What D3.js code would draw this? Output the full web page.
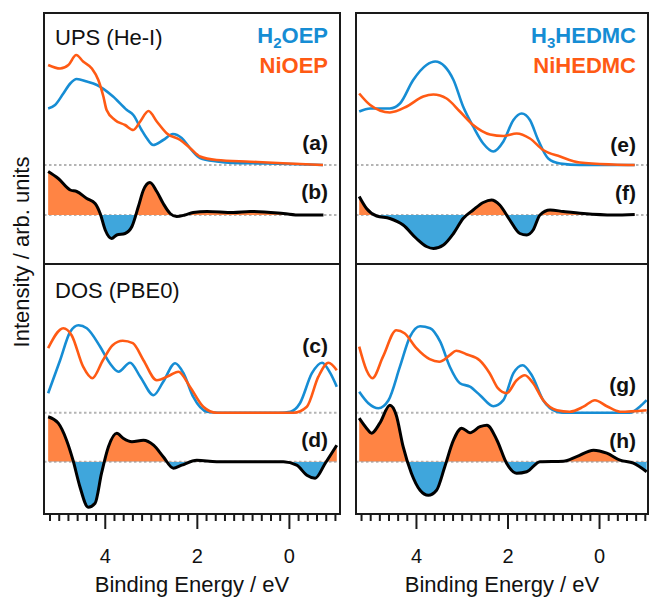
<!DOCTYPE html>
<html>
<head>
<meta charset="utf-8">
<script src="https://cdn.jsdelivr.net/npm/d3@7/dist/d3.min.js"></script>
<style>
  html, body { margin: 0; padding: 0; background: #fff; }
  svg { display: block; }
  text { font-family: "Liberation Sans", Arial, Helvetica, sans-serif; }
</style>
</head>
<body>
<svg id="chart" width="650" height="599"></svg>
<script>
// ---------------- DATA (binding energy [eV], intensity [arb. units]) ----------------
const majorTicks = [4, 2, 0];
const minorTicks = d3.range(-10, 53, 2).map(d => d / 10);

// (a) UPS He-I, OEP
const upsH2OEP = [[5.23,1.13],[5.08,1.2],[4.90,1.43],[4.75,1.63],[4.61,1.72],[4.39,1.67],[4.17,1.6],[3.82,1.37],[3.52,1.1],[3.38,1.0],[3.20,0.7],[3.09,0.54],[2.95,0.4],[2.73,0.5],[2.52,0.62],[2.33,0.54],[2.15,0.34],[1.93,0.14],[1.57,0.07],[1.21,0.04],[0.47,0.03],[-0.24,0.014],[-0.74,0]];
const upsNiOEP = [[5.23,2.0],[4.97,1.93],[4.79,2.0],[4.62,2.2],[4.47,2.07],[4.28,1.93],[4.14,1.7],[4.03,1.37],[3.96,1.1],[3.78,0.9],[3.56,0.8],[3.38,0.7],[3.23,0.87],[3.05,1.08],[2.87,0.87],[2.65,0.63],[2.36,0.5],[2.15,0.34],[1.93,0.17],[1.57,0.1],[0.84,0.066],[0.13,0.034],[-0.74,0]];
// (b) difference NiOEP - H2OEP
const upsDiffOEP = [[5.23,0.87],[5.01,0.73],[4.75,0.5],[4.61,0.47],[4.39,0.33],[4.21,0.23],[4.10,0.03],[3.99,-0.3],[3.85,-0.47],[3.74,-0.4],[3.56,-0.37],[3.41,-0.23],[3.27,0.17],[3.16,0.5],[3.02,0.65],[2.87,0.47],[2.73,0.23],[2.58,0.03],[2.44,-0.03],[2.26,0],[2.08,0.05],[1.78,0.07],[1.21,0.05],[0.84,0.07],[0.12,0.03],[-0.24,0],[-0.75,0]];

// (c) DOS PBE0, OEP
const dosH2OEP = [[5.23,0.39],[4.97,1.05],[4.75,1.62],[4.57,1.75],[4.39,1.69],[4.10,1.32],[3.89,0.99],[3.70,0.82],[3.45,1.0],[3.23,0.72],[2.94,0.35],[2.73,0.62],[2.47,0.99],[2.29,0.79],[2.08,0.32],[1.78,0.02],[1.5,0],[0.2,0],[-0.03,0.02],[-0.24,0.19],[-0.50,0.79],[-0.72,1.0],[-0.90,0.79],[-1.04,0.52]];
const dosNiOEP = [[5.23,1.29],[4.90,1.69],[4.72,1.55],[4.47,0.92],[4.27,0.69],[4.04,1.05],[3.83,1.35],[3.61,1.44],[3.39,1.39],[3.16,1.05],[2.87,0.65],[2.58,0.75],[2.40,0.82],[2.15,0.52],[1.86,0.12],[1.57,0],[0.1,0],[-0.10,0.0],[-0.39,0.12],[-0.64,0.72],[-0.86,1.0],[-1.04,0.85]];
// (d) difference
const dosDiffOEP = [[5.23,0.9],[5.01,0.77],[4.83,0.43],[4.69,0.03],[4.54,-0.5],[4.36,-0.91],[4.21,-0.83],[4.07,-0.23],[3.92,0.3],[3.74,0.57],[3.60,0.47],[3.41,0.4],[3.16,0.43],[2.94,0.33],[2.73,0.1],[2.51,-0.13],[2.33,-0.07],[2.00,0.03],[1.57,0],[0.12,0],[-0.17,-0.07],[-0.39,-0.27],[-0.57,-0.33],[-0.79,-0.03],[-1.04,0.33]];

// (e) UPS He-I, HEDMC
const upsH3HEDMC = [[5.24,1.07],[5.00,1.13],[4.57,1.13],[4.35,1.23],[4.06,1.7],[3.77,2.0],[3.58,2.07],[3.37,1.97],[3.18,1.7],[2.97,1.17],[2.75,0.77],[2.53,0.43],[2.31,0.27],[2.09,0.47],[1.87,0.9],[1.69,1.03],[1.51,0.9],[1.33,0.5],[1.11,0.13],[0.85,0.03],[0.42,0],[-0.78,0]];
const upsNiHEDMC = [[5.24,1.43],[5.00,1.2],[4.57,1.05],[4.20,1.17],[3.84,1.37],[3.62,1.41],[3.33,1.33],[3.04,1.07],[2.75,0.8],[2.38,0.61],[2.09,0.58],[1.80,0.63],[1.51,0.53],[1.22,0.3],[0.85,0.17],[0.42,0.05],[-0.31,0.01],[-0.78,0]];
// (f) difference
const upsDiffHEDMC = [[5.24,0.37],[5.08,0.13],[4.86,-0.02],[4.57,-0.07],[4.28,-0.2],[3.99,-0.47],[3.77,-0.63],[3.62,-0.67],[3.40,-0.6],[3.18,-0.37],[2.97,-0.07],[2.75,0.1],[2.53,0.25],[2.35,0.3],[2.17,0.2],[1.95,-0.1],[1.73,-0.37],[1.58,-0.4],[1.44,-0.3],[1.29,0],[1.07,0.1],[0.78,0.07],[0.34,0.03],[-0.31,0],[-0.78,0.01]];

// (g) DOS PBE0, HEDMC
const dosH3HEDMC = [[5.24,0.42],[5.04,0.19],[4.82,0.09],[4.60,0.25],[4.35,0.92],[4.13,1.52],[3.91,1.73],[3.69,1.69],[3.47,1.42],[3.26,0.92],[3.04,0.59],[2.82,0.52],[2.60,0.35],[2.31,0.13],[2.09,0.25],[1.87,0.79],[1.67,0.95],[1.47,0.75],[1.22,0.25],[0.92,0.02],[0.78,0],[-0.67,0],[-0.89,0.12],[-1.04,0.25]];
const dosNiHEDMC = [[5.24,1.32],[5.08,0.85],[4.95,0.69],[4.72,1.12],[4.43,1.65],[4.25,1.59],[3.99,1.29],[3.70,1.07],[3.49,1.02],[3.26,1.15],[3.12,1.24],[2.90,1.17],[2.61,1.05],[2.39,0.79],[2.21,0.49],[2.02,0.39],[1.80,0.65],[1.62,0.75],[1.44,0.59],[1.22,0.25],[0.92,0.05],[0.64,0.02],[0.34,0.12],[0.09,0.25],[-0.17,0.13],[-0.46,0.02],[-1.04,0.05]];
// (h) difference
const dosDiffHEDMC = [[5.24,0.87],[5.08,0.67],[4.97,0.57],[4.79,0.77],[4.57,1.13],[4.43,0.93],[4.28,0.3],[4.10,-0.23],[3.91,-0.57],[3.73,-0.67],[3.55,-0.57],[3.37,-0.1],[3.18,0.43],[3.00,0.67],[2.82,0.58],[2.60,0.7],[2.45,0.73],[2.23,0.43],[2.02,-0.03],[1.80,-0.23],[1.58,-0.2],[1.29,0],[0.78,0.01],[0.49,0.1],[0.12,0.23],[-0.17,0.17],[-0.46,0.03],[-0.75,-0.03],[-1.04,-0.2]];

// ---------------- STYLE / LAYOUT ----------------
const C = { blue: "#168dd4", orange: "#ff5a14", fillBlue: "#3fa6dc", fillOrange: "#ff8444", dot: "#b4b4b4", frame: "#1a1a1a" };
const FONT = '"Liberation Sans", Arial, Helvetica, sans-serif';

const svg = d3.select("#chart");

const columns = [
  { x0: 44, x1: 340, dom: [5.32, -1.11], legend: [["H", "2", "OEP"], ["NiOEP"]] },
  { x0: 356, x1: 648, dom: [5.31, -1.07], legend: [["H", "3", "HEDMC"], ["NiHEDMC"]] }
];
const rows = [
  { y0: 13, y1: 264, ydom: [-0.98, 4.04], offset: 1.0 },
  { y0: 264, y1: 514, ydom: [-1.046, 3.954], offset: 0.98 }
];

const panels = [
  { col: 0, row: 0, a: upsH2OEP, b: upsNiOEP, d: upsDiffOEP, labels: ["(a)", "(b)"], lab: [150, 199], title: "UPS (He-I)", titleY: 45 },
  { col: 0, row: 1, a: dosH2OEP, b: dosNiOEP, d: dosDiffOEP, labels: ["(c)", "(d)"], lab: [353, 447], title: "DOS (PBE0)", titleY: 298 },
  { col: 1, row: 0, a: upsH3HEDMC, b: upsNiHEDMC, d: upsDiffHEDMC, labels: ["(e)", "(f)"], lab: [152, 200] },
  { col: 1, row: 1, a: dosH3HEDMC, b: dosNiHEDMC, d: dosDiffHEDMC, labels: ["(g)", "(h)"], lab: [392, 448] }
];

const defs = svg.append("defs");

panels.forEach((p, i) => {
  const col = columns[p.col], row = rows[p.row];
  const x = d3.scaleLinear().domain(col.dom).range([col.x0, col.x1]);
  const y = d3.scaleLinear().domain(row.ydom).range([row.y1, row.y0]);
  const curve = d3.curveMonotoneX;
  const g = svg.append("g");

  // clip paths
  const cid = "clip" + i, pos = "pos" + i, neg = "neg" + i;
  defs.append("clipPath").attr("id", cid).append("rect")
    .attr("x", col.x0).attr("y", row.y0).attr("width", col.x1 - col.x0).attr("height", row.y1 - row.y0);
  defs.append("clipPath").attr("id", pos).append("rect")
    .attr("x", col.x0).attr("y", row.y0).attr("width", col.x1 - col.x0).attr("height", y(0) - row.y0);
  defs.append("clipPath").attr("id", neg).append("rect")
    .attr("x", col.x0).attr("y", y(0)).attr("width", col.x1 - col.x0).attr("height", row.y1 - y(0));

  // dotted zero lines
  [row.offset, 0].forEach(base => {
    g.append("line").attr("x1", col.x0).attr("x2", col.x1)
      .attr("y1", y(base)).attr("y2", y(base))
      .attr("stroke", C.dot).attr("stroke-width", 2).attr("stroke-dasharray", "2.5,2.5");
  });

  const inner = g.append("g").attr("clip-path", `url(#${cid})`);

  // difference fills
  const area = d3.area().x(d => x(d[0])).y0(y(0)).y1(d => y(d[1])).curve(curve);
  inner.append("path").datum(p.d).attr("d", area).attr("fill", C.fillOrange).attr("clip-path", `url(#${pos})`);
  inner.append("path").datum(p.d).attr("d", area).attr("fill", C.fillBlue).attr("clip-path", `url(#${neg})`);

  // spectra
  const specLine = d3.line().x(d => x(d[0])).y(d => y(d[1] + row.offset)).curve(curve);
  inner.append("path").datum(p.a).attr("d", specLine).attr("fill", "none")
    .attr("stroke", C.blue).attr("stroke-width", 2.6).attr("stroke-linejoin", "round");
  inner.append("path").datum(p.b).attr("d", specLine).attr("fill", "none")
    .attr("stroke", C.orange).attr("stroke-width", 2.6).attr("stroke-linejoin", "round");

  const diffLine = d3.line().x(d => x(d[0])).y(d => y(d[1])).curve(curve);
  inner.append("path").datum(p.d).attr("d", diffLine).attr("fill", "none")
    .attr("stroke", "#000").attr("stroke-width", 3).attr("stroke-linejoin", "round");

  // panel labels
  p.labels.forEach((t, k) => {
    g.append("text").attr("x", col.x1 - 12).attr("y", p.lab[k]).attr("text-anchor", "end")
      .attr("font-size", 21).attr("font-weight", "bold").attr("fill", "#111").text(t);
  });
  if (p.title) {
    g.append("text").attr("x", col.x0 + 11).attr("y", p.titleY).attr("font-size", 22)
      .attr("fill", "#111").text(p.title);
  }

  // legend (top row)
  if (p.row === 0) {
    const l1 = g.append("text").attr("x", col.x1 - 12).attr("y", 43).attr("text-anchor", "end")
      .attr("font-size", 22).attr("font-weight", "bold").attr("fill", C.blue);
    l1.append("tspan").text(col.legend[0][0]);
    l1.append("tspan").attr("font-size", 15).attr("dy", 5).text(col.legend[0][1]);
    l1.append("tspan").attr("dy", -5).text(col.legend[0][2]);
    g.append("text").attr("x", col.x1 - 12).attr("y", 73).attr("text-anchor", "end")
      .attr("font-size", 22).attr("font-weight", "bold").attr("fill", C.orange).text(col.legend[1][0]);
  }

  // frame
  g.append("rect").attr("x", col.x0).attr("y", row.y0).attr("width", col.x1 - col.x0).attr("height", row.y1 - row.y0)
    .attr("fill", "none").attr("stroke", C.frame).attr("stroke-width", 2);

  // x axis (bottom row)
  if (p.row === 1) {
    const minor = d3.axisBottom(x).tickValues(minorTicks.filter(t => !majorTicks.includes(t)))
      .tickSize(7).tickFormat("");
    const ga = svg.append("g").attr("transform", `translate(0,${row.y1})`).call(minor);
    ga.select(".domain").remove();
    ga.selectAll("line").attr("stroke", C.frame).attr("stroke-width", 2);

    const major = d3.axisBottom(x).tickValues(majorTicks).tickSize(15).tickPadding(20).tickFormat(d3.format("d"));
    const gm = svg.append("g").attr("transform", `translate(0,${row.y1})`).call(major);
    gm.select(".domain").remove();
    gm.selectAll("line").attr("stroke", C.frame).attr("stroke-width", 2);
    gm.selectAll("text").attr("font-size", 20).attr("font-family", FONT).attr("fill", "#111");

    svg.append("text").attr("x", (col.x0 + col.x1) / 2).attr("y", 592).attr("text-anchor", "middle")
      .attr("font-size", 22).attr("fill", "#111").text("Binding Energy / eV");
  }
});

// y axis title
svg.append("text").attr("transform", "translate(29,252) rotate(-90)").attr("text-anchor", "middle")
  .attr("font-size", 22).attr("fill", "#111").text("Intensity / arb. units");
</script>
</body>
</html>
